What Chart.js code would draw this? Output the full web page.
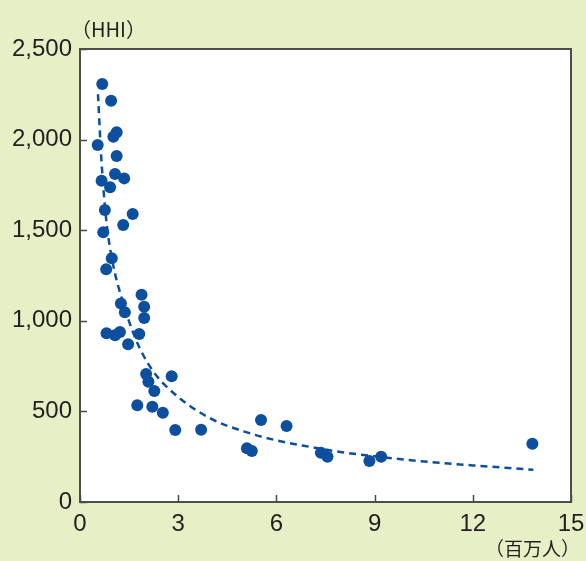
<!DOCTYPE html>
<html>
<head>
<meta charset="utf-8">
<script src="https://cdn.jsdelivr.net/npm/chart.js@4/dist/chart.umd.min.js"></script>
<style>
  html, body { margin: 0; padding: 0; background: #e6efc5; }
  #wrap { position: relative; width: 586px; height: 561px; background: #e6efc5; }
  #c { position: absolute; left: 0; top: 0; }
  .unit { position: absolute; font-family: "Noto Sans CJK JP", "Liberation Sans", sans-serif; color: #231f20; white-space: nowrap; }
  #yUnit { left: 71px; top: 14px; font-size: 20px; }
  #xUnit { right: 6px; top: 534px; font-size: 19px; }
</style>
</head>
<body>
<div id="wrap">
  <canvas id="c" width="586" height="561"></canvas>
  <div class="unit" id="yUnit">（HHI）</div>
  <div class="unit" id="xUnit">（百万人）</div>
</div>
<script>
// 散布図：人口（百万人）と HHI
const popX = [
  0.68, 0.95, 1.12, 1.02, 0.54, 1.12, 1.07, 1.35, 0.66, 0.92,
  0.76, 1.61, 1.32, 0.71, 0.97, 0.80, 1.88, 1.25, 1.96, 1.37,
  1.96, 0.81, 1.07, 1.22, 1.81, 1.47, 2.02, 2.09, 2.80, 2.27,
  1.75, 2.21, 2.53, 2.91, 3.70, 5.53, 6.31, 5.10, 5.25, 7.36,
  7.56, 8.84, 9.20, 13.82,
];
const hhiY = [
  2307, 2215, 2040, 2016, 1970, 1909, 1810, 1786, 1773, 1737,
  1611, 1589, 1529, 1488, 1345, 1284, 1144, 1096, 1078, 1047,
  1015, 931, 920, 938, 927, 870, 706, 664, 694, 613,
  534, 526, 493, 397, 399, 453, 419, 297, 281, 272,
  250, 226, 250, 322,
];

// 近似曲線（破線）— 図から読み取った値
const trendX = [0.55, 0.65, 0.8, 1.0, 1.3, 1.7, 2.2, 3.0, 4.0, 5.0, 6.0, 7.0, 8.0, 9.0, 10.0, 11.0, 12.0, 13.0, 13.85];
const trendY = [2250, 1900, 1560, 1320, 1110, 900, 730, 580, 460, 390, 340, 305, 275, 252, 232, 216, 202, 189, 178];

const xTicks = [0, 3, 6, 9, 12, 15];
const yTicks = [0, 500, 1000, 1500, 2000, 2500];

const blue = '#0d4f9f';
const ink = '#231f20';

// 白いプロット領域・枠線・内向き目盛り
const framePlugin = {
  id: 'frame',
  beforeDraw(chart) {
    const { ctx, chartArea: a } = chart;
    ctx.save();
    ctx.fillStyle = '#ffffff';
    ctx.fillRect(a.left, a.top, a.width, a.height);
    ctx.restore();
  },
  afterDatasetsDraw(chart) {
    const { ctx, chartArea: a, scales } = chart;
    ctx.save();
    ctx.strokeStyle = '#4a4a4a';
    ctx.lineWidth = 1.5;
    ctx.beginPath();
    xTicks.forEach(v => {
      const px = Math.round(scales.x.getPixelForValue(v)) + 0.5;
      ctx.moveTo(px, a.bottom);
      ctx.lineTo(px, a.bottom - 7);
    });
    yTicks.forEach(v => {
      const py = Math.round(scales.y.getPixelForValue(v)) + 0.5;
      ctx.moveTo(a.left, py);
      ctx.lineTo(a.left + 7, py);
    });
    ctx.stroke();
    ctx.lineWidth = 2;
    ctx.strokeStyle = '#4d4d4d';
    ctx.strokeRect(a.left, a.top, a.width, a.height);
    ctx.restore();
  },
};

new Chart(document.getElementById('c'), {
  type: 'scatter',
  data: {
    datasets: [
      {
        type: 'line',
        label: 'trend',
        data: trendX.map((x, i) => ({ x, y: trendY[i] })),
        borderColor: blue,
        borderWidth: 2.5,
        borderDash: [7, 5],
        pointRadius: 0,
        fill: false,
        tension: 0.4,
        cubicInterpolationMode: 'monotone',
        order: 2,
      },
      {
        label: 'HHI',
        data: popX.map((x, i) => ({ x, y: hhiY[i] })),
        backgroundColor: blue,
        borderColor: blue,
        borderWidth: 0,
        pointRadius: 6,
        pointHoverRadius: 6,
        order: 1,
      },
    ],
  },
  options: {
    responsive: false,
    animation: false,
    events: [],
    layout: { padding: { top: 49, right: 15, left: 0, bottom: 0 } },
    plugins: { legend: { display: false }, tooltip: { enabled: false } },
    scales: {
      x: {
        type: 'linear',
        min: 0,
        max: 15,
        afterBuildTicks: s => { s.ticks = xTicks.map(v => ({ value: v })); },
        afterFit: s => { s.height = 59; s.paddingLeft = 0; s.paddingRight = 0; },
        grid: { display: false, drawTicks: false },
        border: { display: false },
        ticks: {
          padding: 8,
          color: ink,
          font: { family: 'Liberation Sans', size: 24 },
          maxRotation: 0,
        },
      },
      y: {
        min: 0,
        max: 2500,
        afterBuildTicks: s => { s.ticks = yTicks.map(v => ({ value: v })); },
        afterFit: s => { s.width = 80; s.paddingTop = 0; s.paddingBottom = 0; },
        grid: { display: false, drawTicks: false },
        border: { display: false },
        ticks: {
          padding: 8,
          color: ink,
          font: { family: 'Liberation Sans', size: 24 },
          callback: v => v.toLocaleString('en-US'),
        },
      },
    },
  },
  plugins: [framePlugin],
});
</script>
</body>
</html>
